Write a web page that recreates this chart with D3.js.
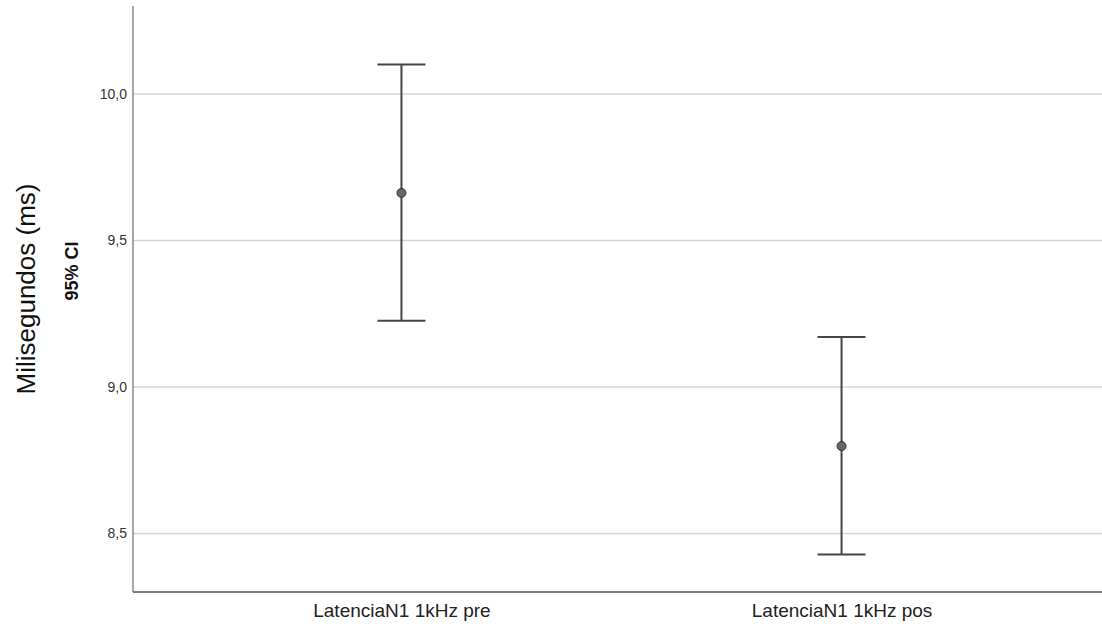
<!DOCTYPE html>
<html>
<head>
<meta charset="utf-8">
<script src="https://cdn.jsdelivr.net/npm/d3@7"></script>
<style>
  html, body { margin: 0; padding: 0; background: #fff; }
  svg { display: block; }
  text { font-family: "Liberation Sans", Arial, sans-serif; }
</style>
</head>
<body>
<svg id="chart" width="1102" height="628"></svg>
<script>
// Group means with their 95% confidence limits (ms)
const categories = ["LatenciaN1 1kHz pre", "LatenciaN1 1kHz pos"];
const means = [9.662, 8.798];
const lowerCI = [9.226, 8.428];
const upperCI = [10.100, 9.170];
const yTicks = [8.5, 9.0, 9.5, 10.0];

const svg = d3.select("#chart");
const plot = { left: 133, top: 6, right: 1102, bottom: 592 };

const x = d3.scalePoint()
  .domain(categories)
  .range([plot.left, 1110])
  .padding(0.61);

const y = d3.scaleLinear()
  .domain([8.3, 10.3])
  .range([plot.bottom, plot.top]);

const fmt = d => d3.format(".1f")(d).replace(".", ",");

// horizontal gridlines
svg.append("g")
  .selectAll("line")
  .data(yTicks)
  .join("line")
  .attr("x1", plot.left)
  .attr("x2", plot.right)
  .attr("y1", d => y(d))
  .attr("y2", d => y(d))
  .attr("stroke", "#d4d4d4")
  .attr("stroke-width", 1.5);

// y axis
const yAxis = svg.append("g")
  .attr("transform", `translate(${plot.left},0)`)
  .call(d3.axisLeft(y).tickValues(yTicks).tickFormat(fmt).tickSize(0).tickPadding(6));
yAxis.select(".domain").remove();
yAxis.selectAll("text")
  .attr("font-size", 14)
  .attr("fill", "#333")
  .style("font-family", "'Liberation Sans', Arial, sans-serif");

svg.append("line")
  .attr("x1", plot.left).attr("x2", plot.left)
  .attr("y1", plot.top).attr("y2", plot.bottom)
  .attr("stroke", "#8a8a8a").attr("stroke-width", 1.5);

// x axis
const xAxis = svg.append("g")
  .attr("transform", `translate(0,${plot.bottom})`)
  .call(d3.axisBottom(x).tickSize(0).tickPadding(12));
xAxis.select(".domain").remove();
xAxis.selectAll("text")
  .attr("font-size", 19)
  .attr("fill", "#222")
  .style("font-family", "'Liberation Sans', Arial, sans-serif");

svg.append("line")
  .attr("x1", plot.left).attr("x2", plot.right)
  .attr("y1", plot.bottom).attr("y2", plot.bottom)
  .attr("stroke", "#555").attr("stroke-width", 1.5);

// error bars
const rows = categories.map((c, i) => ({ c, m: means[i], lo: lowerCI[i], hi: upperCI[i] }));
const capHalf = 24;
const bars = svg.append("g").selectAll("g").data(rows).join("g");

bars.append("line")
  .attr("x1", d => x(d.c)).attr("x2", d => x(d.c))
  .attr("y1", d => y(d.hi)).attr("y2", d => y(d.lo))
  .attr("stroke", "#454545").attr("stroke-width", 2);

bars.append("line")
  .attr("x1", d => x(d.c) - capHalf).attr("x2", d => x(d.c) + capHalf)
  .attr("y1", d => y(d.hi)).attr("y2", d => y(d.hi))
  .attr("stroke", "#454545").attr("stroke-width", 2);

bars.append("line")
  .attr("x1", d => x(d.c) - capHalf).attr("x2", d => x(d.c) + capHalf)
  .attr("y1", d => y(d.lo)).attr("y2", d => y(d.lo))
  .attr("stroke", "#454545").attr("stroke-width", 2);

bars.append("circle")
  .attr("cx", d => x(d.c)).attr("cy", d => y(d.m))
  .attr("r", 4.5)
  .attr("fill", "#666")
  .attr("stroke", "#333").attr("stroke-width", 1);

// axis titles
svg.append("text")
  .attr("transform", "translate(35,289) rotate(-90)")
  .attr("text-anchor", "middle")
  .attr("font-size", 26)
  .attr("fill", "#111")
  .text("Milisegundos (ms)");

svg.append("text")
  .attr("transform", "translate(78,271) rotate(-90)")
  .attr("text-anchor", "middle")
  .attr("font-size", 18)
  .attr("font-weight", "bold")
  .attr("fill", "#111")
  .text("95% CI");
</script>
</body>
</html>
